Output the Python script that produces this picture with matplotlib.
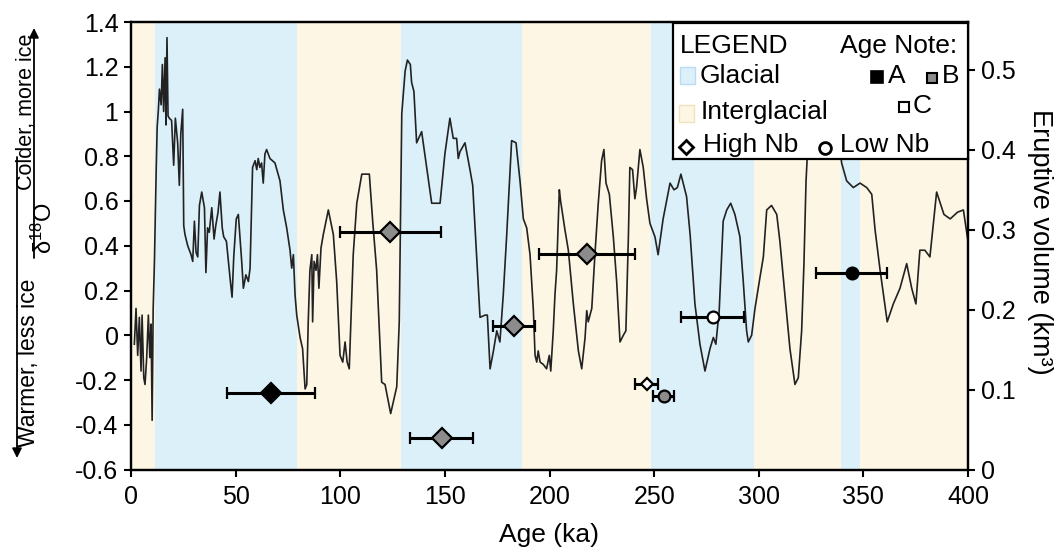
import matplotlib
matplotlib.use('Agg')
import matplotlib.pyplot as plt
from matplotlib.patches import Rectangle

plt.rcParams['font.family'] = ['Liberation Sans', 'DejaVu Sans']
plt.rcParams['axes.unicode_minus'] = False
plt.rcParams['mathtext.fontset'] = 'custom'
plt.rcParams['mathtext.rm'] = 'Liberation Sans'
plt.rcParams['mathtext.it'] = 'Liberation Sans:italic'
plt.rcParams['mathtext.bf'] = 'Liberation Sans:bold'

# ---------------- data ----------------
d18o_age = [1.6, 2.4, 3.2, 4.0, 4.8, 5.3, 6.1, 6.7, 7.5, 8.3, 9.0, 9.6, 10.1, 10.6, 11.2,
            12.0, 12.5, 13.1, 13.6, 14.4, 15.0, 15.6, 16.3, 16.7, 17.2, 17.7, 18.3, 19.4,
            20.4, 21.2, 22.3, 23.1, 23.8, 24.7, 25.2, 25.8, 27.1, 28.7, 29.5, 30.3, 31.1,
            31.9, 32.7, 33.8, 35.1, 35.8, 36.6, 37.4, 38.6, 39.7, 40.5, 41.6, 42.5, 43.6,
            44.3, 45.6, 47.5, 48.3, 49.1, 50.3, 51.3, 52.9, 53.7, 54.9, 56.1, 56.9, 58.1,
            59.3, 60.1, 60.8, 61.6, 62.4, 63.2, 64.0, 64.8, 66.4, 68.8, 71.2, 72.8, 74.4,
            76.0, 76.8, 77.6, 78.4, 79.2, 80.8, 82.0, 83.2, 84.0, 84.7, 85.5, 86.4, 86.8,
            87.5, 88.4, 89.1, 89.8, 90.8, 91.9, 94.3, 96.7, 98.3, 99.9, 101.2, 102.3, 103.3,
            104.3, 106.2, 107.9, 110.3, 113.9, 115.5, 117.4, 119.8, 121.4, 124.1, 127.0,
            128.2, 129.4, 131.0, 132.1, 133.5, 134.1, 135.2, 136.5, 138.9, 141.3, 143.7,
            147.7, 150.0, 152.4, 154.0, 155.6, 156.4, 157.2, 159.6, 162.0, 163.3, 166.8,
            169.2, 170.3, 171.6, 173.2, 174.8, 176.3, 177.9, 179.5, 181.9, 184.0, 185.9,
            187.5, 189.1, 190.7, 192.3, 193.1, 193.9, 194.6, 195.5, 197.0, 198.6, 199.9,
            200.6, 201.8, 202.6, 203.4, 204.7, 205.3, 207.4, 209.0, 211.4, 213.8, 215.4,
            217.0, 217.8, 218.5, 220.2, 221.7, 223.3, 224.9, 226.0, 227.0, 228.6, 230.5,
            232.1, 233.7, 235.3, 236.5, 237.7, 238.4, 239.7, 240.8, 241.6, 243.2, 244.8,
            246.4, 248.0, 250.4, 251.9, 254.3, 257.6, 259.5, 261.1, 262.8, 265.5, 267.2,
            269.5, 271.9, 274.3, 276.7, 278.3, 279.5, 281.1, 283.0, 284.7, 286.6, 288.6,
            291.0, 292.6, 294.2, 295.0, 296.6, 298.2, 300.6, 302.2, 303.8, 306.1, 308.6,
            310.1, 312.5, 314.9, 317.3, 318.9, 320.5, 321.6, 322.6, 324.0, 327.0, 336.0,
            339.6, 342.0, 345.2, 348.4, 351.6, 354.0, 355.6, 358.0, 361.4, 364.3, 367.5,
            370.7, 373.1, 375.1, 377.0, 379.4, 381.8, 385.0, 388.5, 391.5, 395.0, 397.8,
            400.0]
d18o_val = [-0.04, 0.12, -0.09, 0.08, -0.16, 0.09, -0.19, -0.22, -0.10, 0.09, -0.10, 0.05,
            -0.38, 0.12, 0.33, 0.72, 0.93, 1.01, 1.10, 1.03, 1.21, 1.00, 1.24, 0.94, 1.33,
            0.98, 0.97, 0.96, 0.76, 0.97, 0.86, 0.67, 0.90, 1.01, 0.49, 0.45, 0.40, 0.36,
            0.33, 0.51, 0.37, 0.35, 0.58, 0.64, 0.57, 0.28, 0.48, 0.46, 0.57, 0.43, 0.49,
            0.55, 0.64, 0.48, 0.44, 0.42, 0.24, 0.17, 0.35, 0.52, 0.54, 0.33, 0.21, 0.27,
            0.24, 0.30, 0.75, 0.78, 0.74, 0.79, 0.75, 0.77, 0.68, 0.81, 0.83, 0.79, 0.77,
            0.69, 0.56, 0.48, 0.38, 0.30, 0.36, 0.18, 0.09, -0.01, -0.06, -0.24, -0.22,
            0.06, 0.29, 0.36, 0.06, 0.33, 0.29, 0.36, 0.21, 0.39, 0.45, 0.56, 0.45, 0.24,
            -0.09, -0.12, -0.03, -0.12, -0.15, 0.36, 0.59, 0.72, 0.72, 0.51, 0.29, -0.21,
            -0.22, -0.35, -0.23, 0.06, 0.99, 1.18, 1.23, 1.21, 1.13, 1.09, 0.86, 0.91, 0.75,
            0.59, 0.59, 0.81, 0.97, 0.88, 0.88, 0.79, 0.82, 0.86, 0.74, 0.67, 0.08, 0.09,
            0.09, -0.15, -0.07, 0.02, -0.03, 0.18, 0.44, 0.87, 0.86, 0.69, 0.52, 0.48, 0.36,
            0.11, -0.09, -0.12, -0.07, -0.12, -0.13, -0.15, -0.09, -0.16, 0.02, 0.18, 0.29,
            0.65, 0.60, 0.47, 0.38, 0.14, -0.07, -0.15, -0.01, 0.11, 0.06, 0.12, 0.36, 0.59,
            0.78, 0.83, 0.68, 0.63, 0.44, 0.24, -0.03, 0.00, 0.02, 0.44, 0.75, 0.74, 0.61,
            0.66, 0.83, 0.75, 0.61, 0.50, 0.44, 0.36, 0.52, 0.68, 0.65, 0.66, 0.72, 0.62,
            0.45, 0.14, -0.04, -0.16, -0.06, -0.01, -0.04, 0.11, 0.51, 0.56, 0.59, 0.54,
            0.44, 0.24, 0.02, -0.03, 0.00, 0.12, 0.26, 0.35, 0.56, 0.58, 0.54, 0.42, 0.18,
            -0.06, -0.22, -0.19, 0.02, 0.32, 0.69, 0.95, 1.15, 1.10, 0.77, 0.69, 0.66, 0.68,
            0.66, 0.63, 0.47, 0.29, 0.06, 0.14, 0.21, 0.32, 0.21, 0.14, 0.38, 0.38, 0.35,
            0.64, 0.54, 0.52, 0.55, 0.56, 0.42]

band_edges = [0, 11.5, 79.5, 129, 187, 248.5, 297.5, 339.5, 348.5, 400]
band_kinds = ['Interglacial', 'Glacial', 'Interglacial', 'Glacial', 'Interglacial',
              'Glacial', 'Interglacial', 'Glacial', 'Interglacial']

erupt_age = [67, 124, 148.5, 183, 218, 246.5, 254.5, 278, 344.5]
erupt_err = [21, 24, 15, 10, 23, 5.5, 5, 15, 17]
erupt_vol = [0.096, 0.297, 0.039, 0.179, 0.270, 0.1075, 0.092, 0.191, 0.246]
erupt_nb = ['High', 'High', 'High', 'High', 'High', 'High', 'Low', 'Low', 'Low']
erupt_note = ['A', 'B', 'B', 'B', 'B', 'C', 'B', 'C', 'A']

x_ticks = [0, 50, 100, 150, 200, 250, 300, 350, 400]
y_ticks = [-0.6, -0.4, -0.2, 0, 0.2, 0.4, 0.6, 0.8, 1.0, 1.2, 1.4]
y2_ticks = [0, 0.1, 0.2, 0.3, 0.4, 0.5]

# ---------------- styles ----------------
band_colors = {'Glacial': '#dcf0f9', 'Interglacial': '#fdf6e4'}
note_colors = {'A': '#000000', 'B': '#8c8c8c', 'C': '#ffffff'}
nb_markers = {'High': 'D', 'Low': 'o'}

W, H = 1057, 550
fig = plt.figure(figsize=(W / 100, H / 100), dpi=100)
ax = fig.add_axes([131 / W, 1 - 469.5 / H, 837 / W, 447.5 / H])

for i, kind in enumerate(band_kinds):
    ax.axvspan(band_edges[i], band_edges[i + 1], color=band_colors[kind], lw=0, zorder=0)

ax.plot(d18o_age, d18o_val, color='#222222', lw=1.2, zorder=2)
ax.set_xlim(0, 400)
ax.set_ylim(-0.6, 1.4)
ax.set_xticks(x_ticks)
ax.set_yticks(y_ticks)
ax.set_yticklabels([f'{round(v, 1):g}' for v in y_ticks])
ax.tick_params(axis='both', direction='out', length=5, width=1.5, labelsize=18, pad=4)
ax.tick_params(axis='x', pad=6)
for s in ax.spines.values():
    s.set_linewidth(1.6)
ax.set_xlabel('Age (ka)', fontsize=19)
ax.xaxis.set_label_coords((549 - 131) / 837, -0.12)

ax2 = ax.twinx()
ax2.set_ylim(0, 447.5 / 800)
ax2.set_yticks(y2_ticks)
ax2.set_yticklabels([f'{v:g}' for v in y2_ticks])
ax2.tick_params(axis='y', direction='out', length=5, width=1.5, labelsize=18, pad=4)
for s in ax2.spines.values():
    s.set_linewidth(1.6)

for a, e, v, nb, note in zip(erupt_age, erupt_err, erupt_vol, erupt_nb, erupt_note):
    ms = 10 if nb == 'High' else 8.5
    if nb == 'High' and note == 'C':
        ms = 6.5
    ax2.errorbar([a], [v], xerr=[e], fmt=nb_markers[nb], ms=ms, mfc=note_colors[note],
                 mec='black', mew=1.6, ecolor='black', elinewidth=2.2, capsize=4,
                 capthick=2, zorder=4)

# left-side annotation
def fx(px):
    return px / W

def fy(py):
    return 1 - py / H

fig.text(fx(27), fy(112), 'Colder, more ice', rotation=90, ha='center', va='center', fontsize=15.5)
fig.text(fx(29), fy(363), 'Warmer, less ice', rotation=90, ha='center', va='center', fontsize=16.5)
fig.text(fx(44), fy(228), r'$\mathregular{\delta^{18}O}$', rotation=90, ha='center', va='center', fontsize=17)
ax.annotate('', xy=(34, H - 28), xytext=(34, H - 258), xycoords='figure pixels',
            textcoords='figure pixels',
            arrowprops=dict(arrowstyle='-|>', lw=1.3, color='black', mutation_scale=14,
                            shrinkA=0, shrinkB=0))
ax.annotate('', xy=(17, H - 458), xytext=(17, H - 157), xycoords='figure pixels',
            textcoords='figure pixels',
            arrowprops=dict(arrowstyle='-|>', lw=1.3, color='black', mutation_scale=14,
                            shrinkA=0, shrinkB=0))

fig.text(fx(1040), fy(242), 'Eruptive volume (km³)', rotation=270, ha='center', va='center', fontsize=19.5)

# ---------------- custom legend box ----------------
lax = fig.add_axes([673 / W, 1 - 159 / H, 295 / W, 136 / H], zorder=10)
lax.set_xlim(673, 968)
lax.set_ylim(159, 23)
lax.set_xticks([])
lax.set_yticks([])
lax.set_facecolor('white')
for s in lax.spines.values():
    s.set_linewidth(1.6)

fs = 19
lax.text(680, 53, 'LEGEND', ha='left', va='baseline', fontsize=fs)
lax.text(957, 53, 'Age Note:', ha='right', va='baseline', fontsize=fs)
lax.add_patch(Rectangle((679.5, 67), 15.5, 17, facecolor=band_colors['Glacial'], edgecolor='#b9dcef', lw=1))
lax.text(700, 83, 'Glacial', ha='left', va='baseline', fontsize=fs)
lax.add_patch(Rectangle((678.5, 104.5), 15.5, 17, facecolor=band_colors['Interglacial'], edgecolor='#efe3bc', lw=1))
lax.text(700.5, 119, 'Interglacial', ha='left', va='baseline', fontsize=fs)
lax.plot([877], [77], 's', ms=8, mfc=note_colors['A'], mec='black', mew=1.2)
lax.text(888, 83, 'A', ha='left', va='baseline', fontsize=fs)
lax.plot([932], [77.5], 's', ms=7.2, mfc=note_colors['B'], mec='black', mew=1.5)
lax.text(941.5, 83, 'B', ha='left', va='baseline', fontsize=fs)
lax.plot([904], [107], 's', ms=7.2, mfc=note_colors['C'], mec='black', mew=1.5)
lax.text(913, 113, 'C', ha='left', va='baseline', fontsize=fs)
lax.plot([686], [146.5], 'D', ms=7, mfc='white', mec='black', mew=2)
lax.text(703, 152, 'High Nb', ha='left', va='baseline', fontsize=fs)
lax.plot([825], [147.5], 'o', ms=8.5, mfc='white', mec='black', mew=2)
lax.text(840, 152, 'Low Nb', ha='left', va='baseline', fontsize=fs)

fig.savefig('out.png', dpi=100)
